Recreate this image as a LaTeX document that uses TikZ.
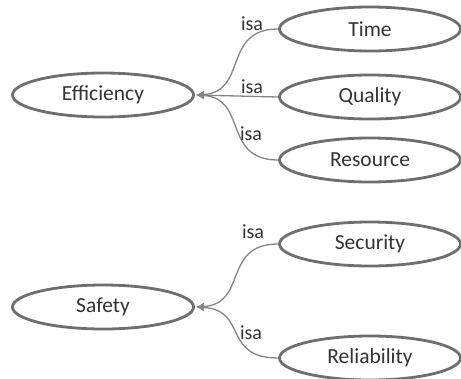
\documentclass[tikz,border=0pt]{standalone}
\usepackage{fontspec}
\setmainfont{Carlito}
\usetikzlibrary{shapes.geometric,arrows.meta}
\definecolor{bordgray}{HTML}{6E6E6E}
\definecolor{edgegray}{HTML}{858585}
\definecolor{txtgray}{HTML}{333333}
\begin{document}
\begin{tikzpicture}[x=1pt,y=-1pt,
  concept/.style={ellipse,draw=bordgray,line width=2.8pt,fill=white,minimum width=181pt,minimum height=44pt,inner sep=0pt,text=txtgray,font=\fontsize{21.5}{24}\selectfont},
  isaedge/.style={draw=edgegray,line width=1.3pt,-{Latex[length=8pt,width=8pt]}},
  lbl/.style={text=txtgray,font=\fontsize{20}{22}\selectfont,inner sep=0pt}]
\useasboundingbox (0,0) rectangle (461,378);
\node[concept] (eff) at (103,95) {Efficiency};
\node[concept] (time) at (370,29) {Time};
\node[concept] (qual) at (370,97) {Quality};
\node[concept] (res) at (370,160) {Resource};
\node[concept] (saf) at (103,307) {Safety};
\node[concept] (sec) at (370,244) {Security};
\node[concept] (rel) at (370,358) {Reliability};
\coordinate (efftip) at (196,95);
\coordinate (saftip) at (196,307);
\draw[isaedge] (time.west) .. controls (222,29) and (248,92) .. (efftip);
\draw[isaedge] (qual.west) -- (efftip);
\draw[isaedge] (res.west) .. controls (222,160) and (248,98) .. (efftip);
\draw[isaedge] (sec.west) .. controls (222,244) and (248,304) .. (saftip);
\draw[isaedge] (rel.west) .. controls (222,358) and (248,310) .. (saftip);
\node[lbl] (l1) at (252,24) {isa};
\node[lbl] (l2) at (252,87) {isa};
\node[lbl] (l3) at (251,134) {isa};
\node[lbl] (l4) at (253,232) {isa};
\node[lbl] (l5) at (251,333) {isa};
\end{tikzpicture}
\end{document}
